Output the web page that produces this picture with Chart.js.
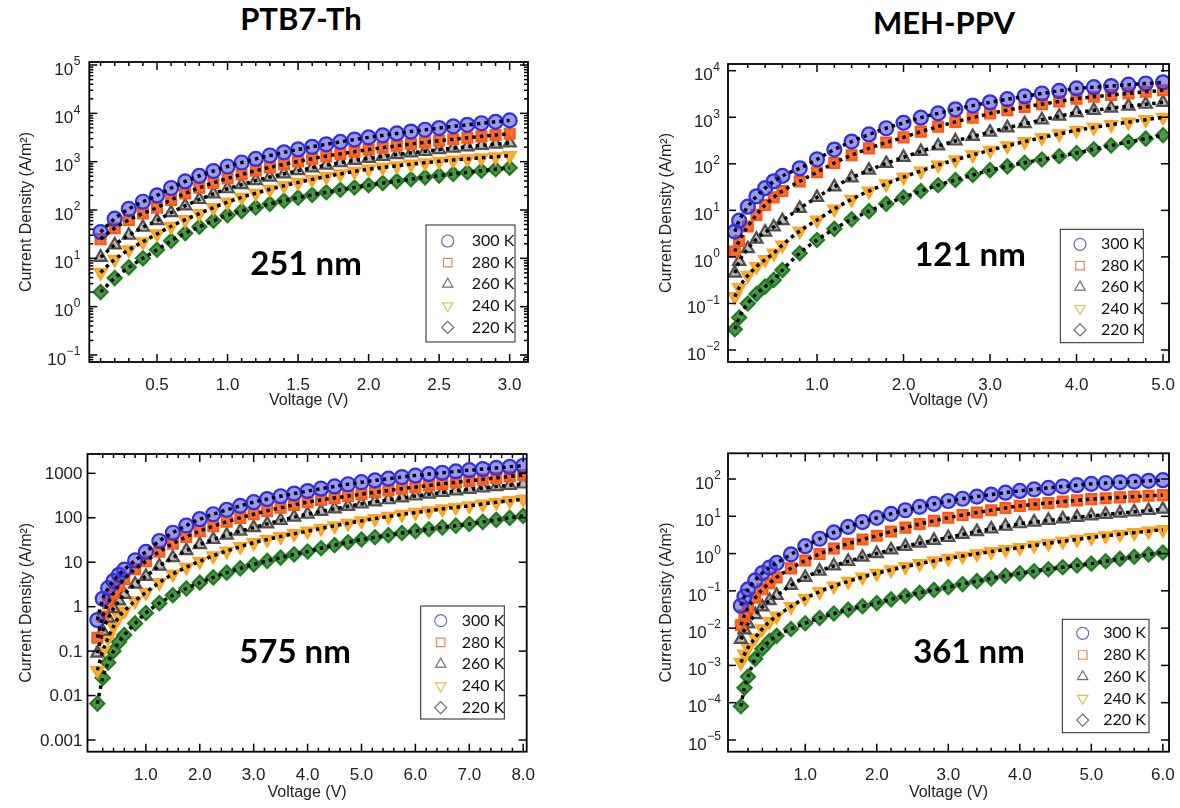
<!DOCTYPE html>
<html>
<head>
<meta charset="utf-8">
<title>J-V curves vs temperature</title>
<script src="https://cdn.jsdelivr.net/npm/chart.js"></script>
<style>
  body { margin: 0; background: #fff; }
  #page { position: relative; width: 1180px; height: 808px; overflow: hidden; background: #fff; }
  canvas { position: absolute; }
  .big { position: absolute; font-family: Lato, 'Open Sans', sans-serif; font-weight: bold; color: #000;
         transform: translate(-50%, -50%); white-space: nowrap; }
  .head { font-size: 31px; }
  .thick { font-size: 33px; }
</style>
</head>
<body>
<div id="page">
  <div class="big head" style="left:301px;top:18px">PTB7-Th</div>
  <div class="big head" style="left:944px;top:22px">MEH-PPV</div>
  <canvas id="tl" width="560" height="370" style="left:0;top:40px"></canvas>
  <canvas id="tr" width="540" height="370" style="left:640px;top:40px"></canvas>
  <canvas id="bl" width="560" height="378" style="left:0;top:430px"></canvas>
  <canvas id="br" width="540" height="378" style="left:640px;top:430px"></canvas>
  <div class="big thick" style="left:306px;top:262px">251 nm</div>
  <div class="big thick" style="left:970px;top:253px">121 nm</div>
  <div class="big thick" style="left:295px;top:650px">575 nm</div>
  <div class="big thick" style="left:969px;top:650px">361 nm</div>
</div>
<script>
// temperatures, same order in every panel
const temps = ['300 K', '280 K', '260 K', '240 K', '220 K'];

// PTB7-Th, 251 nm  (V, A/m^2)
const vTL = [0.1, 0.2, 0.3, 0.4, 0.5, 0.6, 0.7, 0.8, 0.9, 1.0, 1.1, 1.2, 1.3, 1.4, 1.5,
  1.6, 1.7, 1.8, 1.9, 2.0, 2.1, 2.2, 2.3, 2.4, 2.5, 2.6, 2.7, 2.8, 2.9, 3.0];
const tl300 = [35, 66, 105, 148, 200, 285, 390, 510, 640, 795, 960, 1140, 1340, 1560, 1790,
  2030, 2290, 2570, 2870, 3180, 3500, 3840, 4200, 4570, 4960, 5370, 5790, 6230, 6680, 7150];
const tl280 = [25, 42, 62, 85, 112, 162, 220, 288, 364, 450, 544, 648, 760, 880, 1010,
  1150, 1300, 1450, 1610, 1780, 1950, 2130, 2320, 2510, 2710, 2910, 3120, 3340, 3560, 3790];
const tl260 = [10.5, 19, 30, 44, 60, 88, 122, 165, 215, 275, 335, 405, 480, 560, 650,
  745, 845, 950, 1060, 1170, 1280, 1400, 1520, 1640, 1770, 1900, 2030, 2170, 2300, 2440];
const tl240 = [5.1, 9.5, 15, 22, 32, 46, 63, 84, 112, 145, 183, 222, 268, 318, 372,
  430, 492, 558, 628, 700, 760, 822, 886, 950, 1015, 1080, 1140, 1200, 1265, 1330];
const tl220 = [2.0, 3.9, 6.5, 10, 15, 23, 33, 45, 60, 78, 95, 113, 134, 156, 180,
  206, 233, 262, 293, 325, 360, 396, 434, 474, 515, 558, 603, 650, 698, 748];

// MEH-PPV, 121 nm
const vTR = [0.05, 0.1, 0.2, 0.3, 0.4, 0.5, 0.6, 0.8, 1.0, 1.2, 1.4, 1.6, 1.8, 2.0, 2.2,
  2.4, 2.6, 2.8, 3.0, 3.2, 3.4, 3.6, 3.8, 4.0, 4.2, 4.4, 4.6, 4.8, 5.0];
const tr300 = [3.5, 6, 12, 20, 30, 42, 55, 80, 125, 202, 300, 428, 580, 760, 980,
  1210, 1480, 1780, 2090, 2440, 2820, 3240, 3670, 4170, 4420, 4680, 5000, 5300, 5620];
const tr280 = [1.3, 2.2, 4.5, 8, 13, 19, 26, 42, 66, 104, 153, 214, 286, 370, 490,
  630, 795, 980, 1200, 1420, 1660, 1910, 2190, 2510, 2750, 3000, 3260, 3520, 3800];
const tr260 = [0.45, 0.8, 1.5, 2.4, 3.4, 4.4, 6, 11, 19, 32, 50, 73, 102, 138, 185,
  242, 309, 387, 480, 594, 730, 881, 1054, 1260, 1406, 1563, 1726, 1900, 2090];
const tr240 = [0.14, 0.22, 0.4, 0.62, 0.88, 1.2, 1.8, 3.6, 6.2, 10.7, 17.3, 26, 37, 52, 70,
  94, 122, 155, 195, 243, 300, 365, 438, 525, 604, 692, 785, 887, 1000];
const tr220 = [0.028, 0.05, 0.1, 0.16, 0.23, 0.32, 0.52, 1.2, 2.3, 4.0, 6.4, 9.6, 13.8, 19, 26,
  34.7, 45, 57.5, 73, 88, 105, 124, 145, 170, 206, 247, 294, 347, 410];

// PTB7-Th, 575 nm
const vBL = [0.1, 0.2, 0.3, 0.4, 0.5, 0.6, 0.8, 1.0, 1.25, 1.5, 1.75, 2.0, 2.25, 2.5, 2.75, 3.0,
  3.25, 3.5, 3.75, 4.0, 4.25, 4.5, 4.75, 5.0, 5.25, 5.5, 5.75, 6.0, 6.25, 6.5, 6.75, 7.0,
  7.25, 7.5, 7.75, 8.0];
const bl300 = [0.5, 1.5, 2.6, 3.8, 5.2, 6.8, 11, 17, 30, 46, 67, 93, 120, 151, 185, 224,
  263, 305, 350, 398, 451, 507, 567, 631, 692, 757, 822, 891, 960, 1028, 1101, 1175,
  1248, 1324, 1400, 1480];
const bl280 = [0.2, 0.6, 1.2, 2.0, 3.0, 4.2, 7, 10.5, 17.3, 26.2, 37, 50, 64.6, 81.3, 99.5, 120,
  143, 168, 195, 224, 251, 279, 308, 339, 374, 411, 450, 490, 533, 580, 627, 676,
  731, 789, 849, 912];
const bl260 = [0.09, 0.28, 0.55, 0.9, 1.35, 1.9, 3.2, 4.8, 8.2, 12.6, 18.2, 25, 32.4, 40.7, 49.9, 60,
  73, 87, 103, 120, 139, 159, 181, 204, 228, 254, 281, 309, 339, 370, 403, 437,
  469, 504, 538, 575];
const bl240 = [0.037, 0.1, 0.2, 0.36, 0.6, 0.8, 1.35, 2.1, 3.5, 5.4, 7.7, 10.5, 13.9, 17.9, 22.4, 27.5,
  32.5, 37.9, 43.8, 50, 57.8, 66.2, 75.3, 85, 95.6, 107, 119, 132, 144, 158, 172, 186,
  204, 223, 242, 263];
const bl220 = [0.0066, 0.025, 0.055, 0.1, 0.16, 0.23, 0.42, 0.72, 1.2, 1.81, 2.56, 3.47, 4.56, 5.83, 7.28, 8.9,
  10.7, 12.7, 15, 17.4, 20.6, 24.2, 28.1, 32.4, 36.4, 40.6, 45.3, 50, 55.2, 60.7, 66.4, 72.4,
  80.8, 89.8, 99.3, 110];

// MEH-PPV, 361 nm
const vBR = [0.1, 0.15, 0.2, 0.3, 0.4, 0.5, 0.6, 0.8, 1.0, 1.2, 1.4, 1.6, 1.8, 2.0, 2.2, 2.4, 2.6,
  2.8, 3.0, 3.2, 3.4, 3.6, 3.8, 4.0, 4.2, 4.4, 4.6, 4.8, 5.0, 5.2, 5.4, 5.6, 5.8, 6.0];
const br300 = [0.04, 0.07, 0.11, 0.19, 0.3, 0.42, 0.56, 0.95, 1.58, 2.5, 3.7, 5.2, 7.0, 9.1, 11.6, 14.5, 17.9,
  21.6, 25.7, 29.5, 33.7, 38.1, 42.9, 47.9, 52.7, 57.7, 62.9, 68.4, 74, 77.9, 81.6, 85.5, 89.4, 93];
const br280 = [0.012, 0.022, 0.035, 0.065, 0.11, 0.16, 0.23, 0.4, 0.65, 0.97, 1.37, 1.84, 2.39, 3.0, 3.9, 4.97, 6.2,
  7.6, 9.1, 10.8, 12.6, 14.5, 16.7, 19, 20.9, 22.8, 24.7, 26.7, 28.8, 30.5, 32.1, 33.7, 35.5, 37];
const br260 = [0.005, 0.009, 0.013, 0.023, 0.037, 0.055, 0.075, 0.14, 0.23, 0.34, 0.47, 0.62, 0.8, 1.0, 1.26, 1.56, 1.9,
  2.27, 2.7, 3.26, 3.9, 4.6, 5.4, 6.3, 7.0, 7.8, 8.5, 9.4, 10.2, 11.2, 12.2, 13.2, 14.3, 15.5];
const br240 = [0.0012, 0.002, 0.003, 0.0055, 0.0095, 0.015, 0.021, 0.038, 0.063, 0.095, 0.134, 0.18, 0.234, 0.295, 0.366, 0.446, 0.535,
  0.634, 0.74, 0.86, 0.99, 1.13, 1.28, 1.45, 1.66, 1.89, 2.13, 2.4, 2.7, 2.99, 3.3, 3.63, 3.99, 4.37];
const br220 = [0.00008, 0.00025, 0.0005, 0.0015, 0.0028, 0.0045, 0.0062, 0.0095, 0.0135, 0.0187, 0.0246, 0.0313, 0.0386, 0.047, 0.059, 0.073, 0.089,
  0.106, 0.126, 0.152, 0.182, 0.216, 0.254, 0.295, 0.336, 0.381, 0.43, 0.481, 0.537, 0.622, 0.72, 0.824, 0.944, 1.07];

// tick labels (y labels: [base, exponent])
const xTicksTL = [0.5, 1.0, 1.5, 2.0, 2.5, 3.0];
const xTicksTR = [1, 2, 3, 4, 5];
const xTicksBL = [1, 2, 3, 4, 5, 6, 7, 8];
const xTicksBR = [1, 2, 3, 4, 5, 6];
const yTicksTL = [1e-1, 1e0, 1e1, 1e2, 1e3, 1e4, 1e5];
const yLabelsTL = [['10', '-1'], ['10', '0'], ['10', '1'], ['10', '2'], ['10', '3'], ['10', '4'], ['10', '5']];
const yTicksTR = [1e-2, 1e-1, 1e0, 1e1, 1e2, 1e3, 1e4];
const yLabelsTR = [['10', '-2'], ['10', '-1'], ['10', '0'], ['10', '1'], ['10', '2'], ['10', '3'], ['10', '4']];
const yTicksBL = [0.001, 0.01, 0.1, 1, 10, 100, 1000];
const yLabelsBL = [['0.001', ''], ['0.01', ''], ['0.1', ''], ['1', ''], ['10', ''], ['100', ''], ['1000', '']];
const yTicksBR = [1e-5, 1e-4, 1e-3, 1e-2, 1e-1, 1e0, 1e1, 1e2];
const yLabelsBR = [['10', '-5'], ['10', '-4'], ['10', '-3'], ['10', '-2'], ['10', '-1'], ['10', '0'], ['10', '1'], ['10', '2']];

// marker look per temperature
const styles = ['circle', 'rect', 'triangle', 'triangle', 'rectRot'];
const rotations = [0, 0, 0, 180, 0];
const edge = ['#3030dc', '#ff5812', '#505050', '#ffa41c', '#1f7d1f'];
const face = ['rgba(70,70,230,0.55)', 'rgba(255,95,25,0.9)', 'rgba(140,140,140,0.6)',
  'rgba(255,170,35,0.92)', 'rgba(40,135,40,0.85)'];
const legendEdge = ['#6b6bc4', '#e3875c', '#707070', '#d8c64c', '#6a6a6a'];

const AXIS_FONT = "'Liberation Sans', Arial, sans-serif";
Chart.defaults.font.family = AXIS_FONT;
Chart.defaults.color = '#222';

// box frame, inward ticks on all four sides, y labels with raised exponents
const frameTicks = {
  id: 'frameTicks',
  afterDatasetsDraw(chart, args, opts) {
    const { ctx, chartArea: a, scales: { x, y } } = chart;
    const line = (x1, y1, x2, y2) => { ctx.beginPath(); ctx.moveTo(x1, y1); ctx.lineTo(x2, y2); ctx.stroke(); };
    ctx.save();
    ctx.strokeStyle = '#000';
    ctx.lineWidth = 1.5;
    for (let i = 1; i * opts.xMinor < x.max; i++) {
      const v = i * opts.xMinor;
      const px = x.getPixelForValue(v);
      if (px < a.left + 2 || px > a.right - 2) continue;
      const r = v / opts.xMajor;
      const len = Math.abs(r - Math.round(r)) < 1e-6 ? 8 : 4;
      line(px, a.bottom, px, a.bottom - len);
      line(px, a.top, px, a.top + len);
    }
    const e0 = Math.floor(Math.log10(y.min)), e1 = Math.ceil(Math.log10(y.max));
    const mults = opts.yMinor ? [1, 2, 3, 4, 5, 6, 7, 8, 9] : [1];
    for (let e = e0; e <= e1; e++) {
      mults.forEach(m => {
        const v = m * Math.pow(10, e);
        if (v <= y.min || v >= y.max) return;
        const py = y.getPixelForValue(v);
        const len = m === 1 ? 8 : 4;
        line(a.left, py, a.left + len, py);
        line(a.right, py, a.right - len, py);
      });
    }
    ctx.lineWidth = 1.8;
    ctx.strokeRect(a.left, a.top, a.right - a.left, a.bottom - a.top);

    // y tick labels
    ctx.fillStyle = '#222';
    ctx.textAlign = 'right';
    opts.yTicks.forEach((v, i) => {
      const [base, exp] = opts.yLabels[i];
      const py = y.getPixelForValue(v);
      let xr = a.left - opts.yPad;
      if (exp) {
        ctx.font = '12px ' + AXIS_FONT;
        ctx.textBaseline = 'middle';
        ctx.fillText(exp.replace('-', '−'), xr, py - 3);
        xr -= ctx.measureText(exp.replace('-', '−')).width + 0.5;
        ctx.font = '17px ' + AXIS_FONT;
        ctx.fillText(base, xr, py + 5);
      } else {
        ctx.font = '17px ' + AXIS_FONT;
        ctx.textBaseline = 'middle';
        ctx.fillText(base, xr, py + 1);
      }
    });
    ctx.restore();
  }
};

// small boxed legend inside the plot
const boxLegend = {
  id: 'boxLegend',
  afterDraw(chart, args, b) {
    const { ctx } = chart;
    ctx.save();
    ctx.fillStyle = '#fff';
    ctx.fillRect(b.left, b.top, b.right - b.left, b.bottom - b.top);
    ctx.strokeStyle = '#222';
    ctx.lineWidth = 1;
    ctx.strokeRect(b.left, b.top, b.right - b.left, b.bottom - b.top);
    ctx.font = '16px Lato, "Open Sans", sans-serif';
    ctx.textBaseline = 'middle';
    ctx.textAlign = 'left';
    temps.forEach((t, i) => {
      const yy = b.row0 + i * b.step;
      ctx.strokeStyle = legendEdge[i];
      ctx.fillStyle = 'rgba(0,0,0,0)';
      ctx.lineWidth = 1.2;
      Chart.helpers.drawPoint(ctx, { pointStyle: styles[i], rotation: rotations[i], radius: 6, borderWidth: 1.2 }, b.markX, yy);
      ctx.fillStyle = '#111';
      ctx.fillText(t, b.textX, yy);
    });
    ctx.restore();
  }
};

const buildDatasets = (volts, series) => {
  const pts = s => volts.map((v, i) => ({ x: v, y: s[i] }));
  const marks = series.map((s, k) => ({
    label: temps[k], data: pts(s), showLine: false, order: 1,
    pointStyle: styles[k], pointRotation: rotations[k], pointRadius: 7,
    pointBorderWidth: 2.2, pointBorderColor: edge[k], pointBackgroundColor: face[k]
  }));
  const fits = series.map((s, k) => ({
    label: temps[k] + ' fit', data: pts(s), showLine: true, order: 0, pointRadius: 0,
    borderColor: '#000', borderWidth: 3.5, borderDash: [3.5, 4], cubicInterpolationMode: 'monotone'
  }));
  return marks.concat(fits);
};

const makePanel = p => {
  const el = document.getElementById(p.id);
  const W = el.width, H = el.height;
  new Chart(el, {
    type: 'scatter',
    data: { datasets: buildDatasets(p.volts, p.series) },
    plugins: [frameTicks, boxLegend],
    options: {
      responsive: false,
      animation: false,
      devicePixelRatio: 1,
      layout: { padding: { left: 0, top: p.area.top, right: W - p.area.right, bottom: 0 } },
      plugins: {
        legend: { display: false },
        tooltip: { enabled: false },
        frameTicks: { xMajor: p.xMajor, xMinor: p.xMinor, yMinor: p.yMinor,
          yTicks: p.yTicks, yLabels: p.yLabels, yPad: p.yPad },
        boxLegend: p.legend
      },
      scales: {
        x: {
          type: 'linear', min: p.xMin, max: p.xMax,
          grid: { display: false }, border: { display: false },
          afterBuildTicks: s => { s.ticks = p.xTicks.map(v => ({ value: v })); },
          afterFit: s => { s.height = H - p.area.bottom; },
          ticks: { font: { size: 17 }, padding: 5, maxRotation: 0, autoSkip: false,
            callback: v => v.toFixed(1) },
          title: { display: true, text: 'Voltage (V)', font: { size: 16 }, color: '#222',
            padding: { top: 0, bottom: p.xTitlePad } }
        },
        y: {
          type: 'logarithmic', min: p.yMin, max: p.yMax,
          grid: { display: false }, border: { display: false },
          afterBuildTicks: s => { s.ticks = p.yTicks.map(v => ({ value: v })); },
          afterFit: s => { s.width = p.area.left; },
          ticks: { display: false },
          title: { display: true, text: 'Current Density (A/m²)', font: { size: 16 }, color: '#222',
            padding: { top: 17, bottom: 0 } }
        }
      }
    }
  });
};

makePanel({
  id: 'tl', volts: vTL, series: [tl300, tl280, tl260, tl240, tl220],
  xMin: 0.02, xMax: 3.13, xTicks: xTicksTL, xMajor: 0.5, xMinor: 0.1,
  yMin: 0.0716, yMax: 1.154e5, yTicks: yTicksTL, yLabels: yLabelsTL, yMinor: true,
  area: { left: 89.3, top: 22, right: 528, bottom: 322 }, xTitlePad: 0, yPad: 9,
  legend: { left: 426, top: 185, right: 515, bottom: 302, row0: 201, step: 21.6, markX: 447.7, textX: 471.7 }
});
makePanel({
  id: 'tr', volts: vTR, series: [tr300, tr280, tr260, tr240, tr220],
  xMin: -0.029, xMax: 5.069, xTicks: xTicksTR, xMajor: 1, xMinor: 0.2,
  yMin: 0.00552, yMax: 13930, yTicks: yTicksTR, yLabels: yLabelsTR, yMinor: false,
  area: { left: 88, top: 24, right: 529, bottom: 322 }, xTitlePad: 0, yPad: 8,
  legend: { left: 420.3, top: 189.3, right: 503.3, bottom: 302.7, row0: 204.3, step: 21.4, markX: 440, textX: 461 }
});
makePanel({
  id: 'bl', volts: vBL, series: [bl300, bl280, bl260, bl240, bl220],
  xMin: -0.083, xMax: 8.065, xTicks: xTicksBL, xMajor: 1, xMinor: 0.2,
  yMin: 0.000546, yMax: 2720, yTicks: yTicksBL, yLabels: yLabelsBL, yMinor: false,
  area: { left: 87.5, top: 24, right: 526.7, bottom: 321.7 }, xTitlePad: 6, yPad: 5,
  legend: { left: 420.7, top: 176, right: 504.3, bottom: 289, row0: 190.7, step: 21.75, markX: 440.7, textX: 461.7 }
});
makePanel({
  id: 'br', volts: vBR, series: [br300, br280, br260, br240, br220],
  xMin: -0.08, xMax: 6.086, xTicks: xTicksBR, xMajor: 1, xMinor: 0.2,
  yMin: 4.85e-6, yMax: 489, yTicks: yTicksBR, yLabels: yLabelsBR, yMinor: false,
  area: { left: 88, top: 23.3, right: 529, bottom: 321.7 }, xTitlePad: 6, yPad: 7,
  legend: { left: 422.3, top: 189.3, right: 509, bottom: 302.7, row0: 203.3, step: 21.7, markX: 442.7, textX: 463.3 }
});
</script>
</body>
</html>
